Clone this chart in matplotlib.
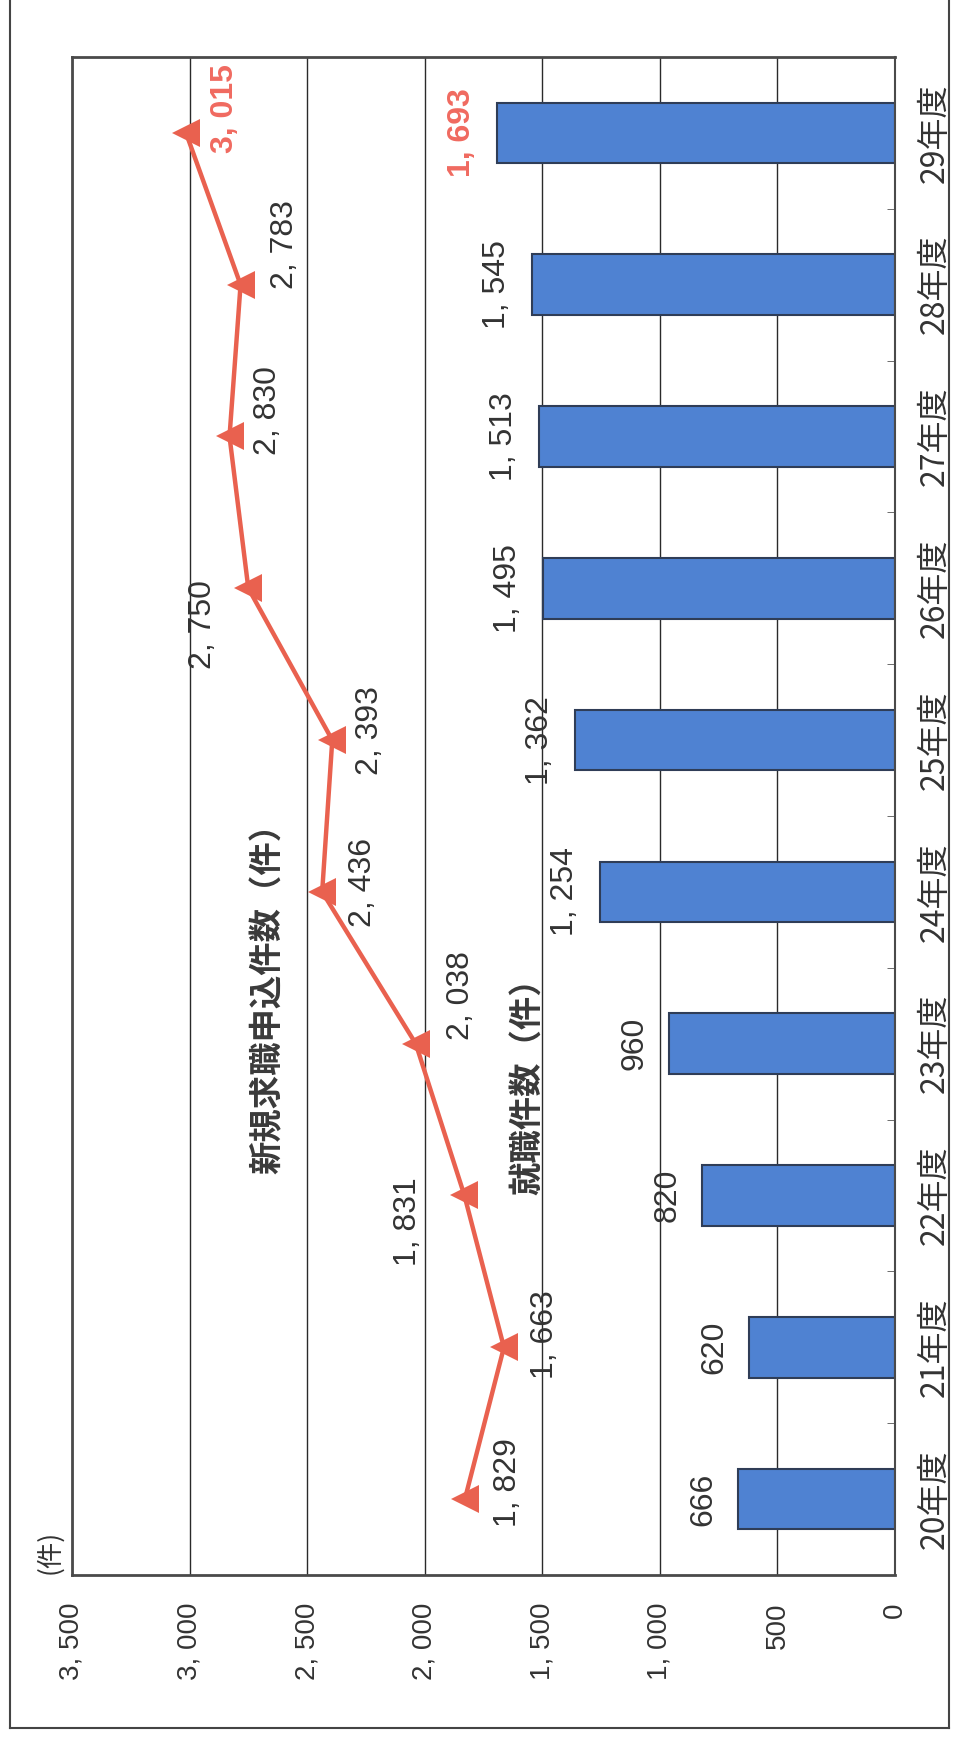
import numpy as np
import matplotlib
matplotlib.use('Agg')
import matplotlib.pyplot as plt
from matplotlib import font_manager
from matplotlib.lines import Line2D

# data
years = ['20年度', '21年度', '22年度', '23年度', '24年度', '25年度', '26年度', '27年度', '28年度', '29年度']
applications = [1829, 1663, 1831, 2038, 2436, 2393, 2750, 2830, 2783, 3015]  # 新規求職申込件数
placements = [666, 620, 820, 960, 1254, 1362, 1495, 1513, 1545, 1693]        # 就職件数
value_ticks = [0, 500, 1000, 1500, 2000, 2500, 3000, 3500]

# label offsets for the line values (pixels, as placed in the original)
line_label_offsets = [(43, 17), (41, 13), (-56, -26), (45, 48), (41, 9),
                      (38, 10), (-45, -36), (38, 26), (44, 40), (39, 24)]

# fonts
names = {f.name for f in font_manager.fontManager.ttflist}
if 'Liberation Sans Narrow' in names:
    num_font = 'Liberation Sans Narrow'
    num_size, tick_size = 28, 24
else:
    num_font = 'Liberation Sans'
    num_size, tick_size = 23, 20
jp_font = 'Noto Sans CJK JP'
plt.rcParams['font.family'] = [jp_font, 'DejaVu Sans']

text_col = '#333333'
bar_col = '#4f82d2'
line_col = '#e9614f'
hi_col = '#f06a60'


def fmt(v):
    return '{:,}'.format(v).replace(',', ', ')


fig = plt.figure(figsize=(9.57, 17.38), dpi=100)
ax = fig.add_axes([0.0752, 0.0938, 0.86, 0.8734])

pos = np.arange(len(years))
ax.barh(pos, placements, height=0.4, color=bar_col, edgecolor='#2f3d57', linewidth=1.5, zorder=2)
ax.plot(applications, pos, color=line_col, linewidth=3.2, marker='<', markersize=20,
        markeredgewidth=0, zorder=3)

ax.set_xlim(3500, 0)
ax.set_ylim(-0.5, len(years) - 0.5)

# value axis (bottom, rotated)
ax.set_xticks(value_ticks)
ax.set_xticklabels([fmt(v) for v in value_ticks], rotation=90, family=num_font,
                   fontsize=tick_size, color=text_col)
ax.tick_params(axis='x', length=0, pad=20)
ax.xaxis.grid(True, color='#2a2a2a', linewidth=1.0)
ax.set_axisbelow(True)

# categories on the right
ax.yaxis.tick_right()
ax.set_yticks(pos)
ax.set_yticklabels(years, rotation=90, va='center', fontsize=23, color=text_col)
ax.tick_params(axis='y', which='major', length=0, pad=17)
ax.set_yticks(np.arange(-0.5, len(years), 1), minor=True)
ax.tick_params(axis='y', which='minor', direction='in', length=6, right=True, left=False,
               color='#555555')

for side in ['top', 'left', 'bottom']:
    ax.spines[side].set_color('#4a4a4a')
    ax.spines[side].set_linewidth(2)
ax.spines['right'].set_color('#4a4a4a')
ax.spines['right'].set_linewidth(1.5)

# value labels for the line
for i, v in enumerate(applications):
    last = i == len(applications) - 1
    dx, dy = line_label_offsets[i]
    ax.annotate(fmt(v), (v, pos[i]), xytext=(dx, dy), textcoords='offset pixels',
                rotation=90, ha='center', va='center', family=num_font,
                fontsize=num_size, fontweight='bold' if last else 'normal',
                color=hi_col if last else text_col, zorder=4)

# value labels for the bars
for i, v in enumerate(placements):
    last = i == len(placements) - 1
    ax.annotate(fmt(v), (v, pos[i]), xytext=(-20, 0), textcoords='offset pixels',
                rotation=90, ha='right', va='center', family=num_font,
                fontsize=num_size, fontweight='bold' if last else 'normal',
                color=hi_col if last else text_col, zorder=4)

# series names
ax.text(0.238, 0.385, '新規求職申込件数（件）', transform=ax.transAxes, rotation=90,
        ha='center', va='center', fontsize=24, fontweight='bold', color='#3a3a3a')
ax.text(0.553, 0.327, '就職件数（件）', transform=ax.transAxes, rotation=90,
        ha='center', va='center', fontsize=24, fontweight='bold', color='#3a3a3a')

# unit
fig.text(50 / 957, (1738 - 1552) / 1738, '(件)', rotation=90, ha='center', va='center',
         fontsize=19, color=text_col)

# outer frame
fy0 = (1738 - 1728) / 1738
fx0, fx1 = 10 / 957, 949 / 957
for xs, ys in [([fx0, fx0], [fy0, 1.0]), ([fx0, fx1], [fy0, fy0]), ([fx1, fx1], [fy0, 1.0])]:
    fig.add_artist(Line2D(xs, ys, transform=fig.transFigure, color='#444444', linewidth=1.5))

fig.savefig('out.png', dpi=100)
